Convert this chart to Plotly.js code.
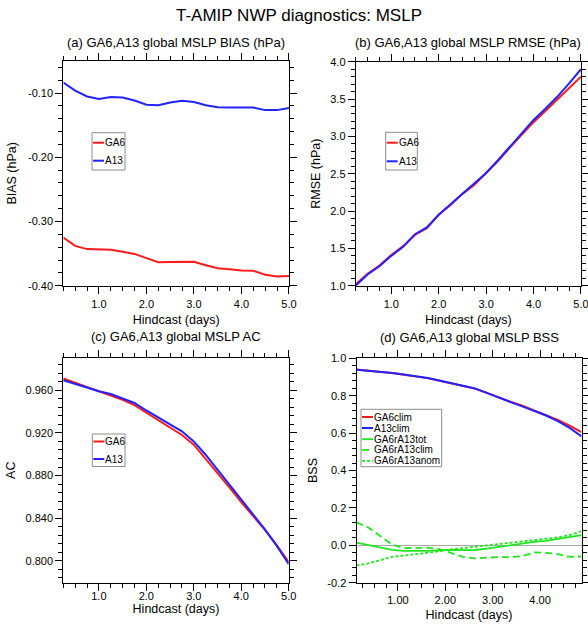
<!DOCTYPE html>
<html><head><meta charset="utf-8">
<script src="https://cdn.plot.ly/plotly-3.0.1.min.js"></script>
<style>html,body{margin:0;padding:0;background:#fff;} #chart{width:588px;height:628px;}</style>
</head><body><div id="chart"></div>
<script>
// ---------------- data ----------------
const days = [0.25,0.5,0.75,1.0,1.25,1.5,1.75,2.0,2.25,2.5,2.75,3.0,3.25,3.5,3.75,4.0,4.25,4.5,4.75,5.0];
const biasGA6 = [-0.325,-0.338,-0.343,-0.344,-0.344,-0.347,-0.3505,-0.357,-0.3635,-0.363,-0.3625,-0.3628,-0.368,-0.3727,-0.3745,-0.3765,-0.3768,-0.383,-0.3858,-0.385];
const biasA13 = [-0.0835,-0.096,-0.1053,-0.109,-0.106,-0.107,-0.1115,-0.118,-0.119,-0.1147,-0.112,-0.114,-0.119,-0.122,-0.1225,-0.123,-0.1225,-0.1265,-0.1265,-0.123];
const rmseGA6 = [1.02,1.16,1.27,1.41,1.53,1.68,1.77,1.95,2.08,2.23,2.35,2.505,2.67,2.85,3.02,3.19,3.34,3.49,3.64,3.80];
const rmseA13 = [1.00,1.15,1.26,1.40,1.52,1.69,1.78,1.95,2.09,2.23,2.36,2.51,2.68,2.86,3.04,3.22,3.37,3.53,3.71,3.90];
const acGA6 = [0.971,0.967,0.963,0.9585,0.955,0.951,0.946,0.939,0.932,0.925,0.918,0.909,0.896,0.882,0.869,0.855,0.842,0.829,0.8145,0.799];
const acA13 = [0.9694,0.966,0.9625,0.959,0.9565,0.9525,0.948,0.941,0.9345,0.928,0.9215,0.912,0.8995,0.8855,0.8715,0.857,0.843,0.8295,0.814,0.797];
const bssDays = [0.125,0.375,0.625,0.875,1.125,1.375,1.625,1.875,2.125,2.375,2.625,2.875,3.125,3.375,3.625,3.875,4.125,4.375,4.625,4.875];
const bssGA6clim = [0.940,0.935,0.929,0.921,0.912,0.903,0.894,0.880,0.866,0.854,0.838,0.815,0.790,0.768,0.746,0.722,0.698,0.671,0.640,0.605];
const bssA13clim = [0.939,0.934,0.929,0.922,0.913,0.904,0.895,0.881,0.867,0.855,0.839,0.815,0.789,0.766,0.743,0.718,0.694,0.664,0.628,0.582];
const bssGA6rA13tot = [0.014,0.0,-0.015,-0.025,-0.03,-0.032,-0.03,-0.027,-0.024,-0.026,-0.025,-0.018,-0.008,0.0,0.01,0.018,0.024,0.033,0.043,0.054];
const bssGA6rA13clim = [0.123,0.095,0.05,0.004,-0.015,-0.016,-0.013,-0.02,-0.04,-0.062,-0.07,-0.066,-0.063,-0.063,-0.058,-0.038,-0.04,-0.047,-0.062,-0.06];
const bssGA6rA13anom = [-0.107,-0.097,-0.08,-0.062,-0.055,-0.048,-0.04,-0.032,-0.022,-0.015,-0.008,0.0,0.006,0.015,0.022,0.03,0.035,0.042,0.055,0.075];

const dayTicks = [1,2,3,4,5];
const dayTickText = ['1.0','2.0','3.0','4.0','5.0'];
const bssDayTicks = [1,2,3,4];
const bssDayTickText = ['1.00','2.00','3.00','4.00'];
const biasTicks = [-0.4,-0.3,-0.2,-0.1];
const biasTickText = ['-0.40','-0.30','-0.20','-0.10'];
const rmseTicks = [1.0,1.5,2.0,2.5,3.0,3.5,4.0];
const rmseTickText = ['1.0','1.5','2.0','2.5','3.0','3.5','4.0'];
const acTicks = [0.80,0.84,0.88,0.92,0.96];
const acTickText = ['0.800','0.840','0.880','0.920','0.960'];
const bssTicks = [-0.2,0.0,0.2,0.4,0.6,0.8,1.0];
const bssTickText = ['-0.2','0.0','0.2','0.4','0.6','0.8','1.0'];

// ---------------- styles ----------------
const RED = '#ff1a1a', BLUE = '#2222ff', GREEN = '#1ee61e';
const W = 588, H = 628;
const px = v => v / W, py = v => 1 - v / H;

function line(x, y, name, color, dash, xa, ya, width) {
  return {x: x, y: y, name: name, type: 'scatter', mode: 'lines',
    line: {color: color, width: width || 2, dash: dash || 'solid'},
    xaxis: xa, yaxis: ya, showlegend: false, hoverinfo: 'skip'};
}
const traces = [
  line(days, biasGA6, 'GA6', RED, 'solid', 'x', 'y'),
  line(days, biasA13, 'A13', BLUE, 'solid', 'x', 'y'),
  line(days, rmseGA6, 'GA6', RED, 'solid', 'x2', 'y2'),
  line(days, rmseA13, 'A13', BLUE, 'solid', 'x2', 'y2'),
  line(days, acGA6, 'GA6', RED, 'solid', 'x3', 'y3'),
  line(days, acA13, 'A13', BLUE, 'solid', 'x3', 'y3'),
  line(bssDays, bssGA6clim, 'GA6clim', RED, 'solid', 'x4', 'y4'),
  line(bssDays, bssA13clim, 'A13clim', BLUE, 'solid', 'x4', 'y4'),
  line(bssDays, bssGA6rA13tot, 'GA6rA13tot', GREEN, 'solid', 'x4', 'y4', 1.8),
  line(bssDays, bssGA6rA13clim, 'GA6rA13clim', GREEN, '7px,4px', 'x4', 'y4', 1.8),
  line(bssDays, bssGA6rA13anom, 'GA6rA13anom', GREEN, '3px,2px', 'x4', 'y4', 1.8)
];

const FONT = 'Liberation Sans, Arial, Helvetica, sans-serif';
function xax(domain, range, tv, tt, anchor, minorDt, lblShift, standoff) {
  return {domain: domain, range: range, anchor: anchor, tickvals: tv, ticktext: tt,
    ticks: 'outside', ticklen: 7, tickwidth: 1, tickcolor: '#000',
    ticklabelstandoff: lblShift, ticklabeloverflow: 'allow',
    showline: true, linecolor: '#000', linewidth: 1, mirror: 'allticks',
    showgrid: false, zeroline: false, automargin: false,
    tickfont: {size: 11, color: '#000'},
    minor: {dtick: minorDt, tick0: 0, ticks: 'outside', ticklen: 4, tickcolor: '#000', tickwidth: 1},
    title: {text: 'Hindcast (days)', font: {size: 12.5, color: '#000'}, standoff: standoff}};
}
function yax(domain, range, tv, tt, anchor, minorDt, title, standoff, zl) {
  return {domain: domain, range: range, anchor: anchor, tickvals: tv, ticktext: tt,
    ticks: 'outside', ticklen: 7, tickwidth: 1, tickcolor: '#000',
    ticklabeloverflow: 'allow',
    showline: true, linecolor: '#000', linewidth: 1, mirror: 'allticks',
    showgrid: false, zeroline: !!zl, zerolinecolor: '#a8a8a8', zerolinewidth: 1, automargin: false,
    tickfont: {size: 11, color: '#000'},
    minor: {dtick: minorDt, tick0: 0, ticks: 'outside', ticklen: 4, tickcolor: '#000', tickwidth: 1},
    title: {text: title, font: {size: 12.5, color: '#000'}, standoff: standoff}};
}

const dA = {x: [px(63.3), px(289)], y: [py(285.7), py(61)]};
const dB = {x: [px(355.7), px(581)], y: [py(285.7), py(61.7)]};
const dC = {x: [px(63.3), px(288.7)], y: [py(582.7), py(357.7)]};
const dD = {x: [px(356.5), px(581.5)], y: [py(582.7), py(358.3)]};

const layout = {
  width: W, height: H, margin: {l: 0, r: 0, t: 0, b: 0},
  paper_bgcolor: '#fff', plot_bgcolor: '#fff',
  font: {family: FONT, color: '#000'},
  showlegend: false,
  title: {text: 'T-AMIP NWP diagnostics: MSLP', font: {size: 17, color: '#000'},
    x: px(299), xanchor: 'center', y: py(15), yanchor: 'middle', xref: 'paper', yref: 'paper'},
  xaxis: xax(dA.x, [0.2499, 5.0005], dayTicks, dayTickText, 'y', 0.25, 1, 6),
  yaxis: yax(dA.y, [-0.40, -0.05], biasTicks, biasTickText, 'x', 0.02, 'BIAS (hPa)', 8),
  xaxis2: xax(dB.x, [0.2499, 5.0005], dayTicks, dayTickText, 'y2', 0.25, 1, 6),
  yaxis2: yax(dB.y, [1.0, 4.0], rmseTicks, rmseTickText, 'x2', 0.1, 'RMSE (hPa)', 6),
  xaxis3: xax(dC.x, [0.2499, 5.0005], dayTicks, dayTickText, 'y3', 0.25, -4, 0),
  yaxis3: yax(dC.y, [0.7795, 0.9905], acTicks, acTickText, 'x3', 0.008, 'AC', 7),
  xaxis4: xax(dD.x, [0.125, 4.875], bssDayTicks, bssDayTickText, 'y4', 0.25, 0, 5),
  yaxis4: yax(dD.y, [-0.2, 1.0], bssTicks, bssTickText, 'x4', 0.04, 'BSS', 6, true),
  shapes: [], annotations: []
};

// subplot titles
const subTitles = [
  ['(a) GA6,A13 global MSLP BIAS (hPa)', 176.2, 42.5],
  ['(b) GA6,A13 global MSLP RMSE (hPa)', 468.4, 42.7],
  ['(c) GA6,A13 global MSLP AC', 176, 336.7],
  ['(d) GA6,A13 global MSLP BSS', 469, 337.3]
];
subTitles.forEach(s => layout.annotations.push({text: s[0], x: px(s[1]), y: py(s[2]),
  xref: 'paper', yref: 'paper', xanchor: 'center', yanchor: 'middle', showarrow: false,
  font: {size: 13, color: '#000'}}));

// legends built from trace names / styles
function addLegend(idx, left, top, width, height, rows, lineLen) {
  layout.shapes.push({type: 'rect', xref: 'paper', yref: 'paper',
    x0: px(left), x1: px(left + width), y0: py(top), y1: py(top + height),
    line: {color: '#8c8c8c', width: 1}, fillcolor: '#fff', layer: 'above'});
  idx.forEach((ti, k) => {
    const t = traces[ti];
    layout.shapes.push({type: 'line', xref: 'paper', yref: 'paper',
      x0: px(left + 1), x1: px(left + 1 + lineLen), y0: py(rows[k]), y1: py(rows[k]),
      line: {color: t.line.color, width: t.line.width, dash: t.line.dash}, layer: 'above'});
    layout.annotations.push({text: t.name, xref: 'paper', yref: 'paper',
      x: px(left + 1 + lineLen), y: py(rows[k]), xanchor: 'left', yanchor: 'middle',
      showarrow: false, font: {size: 10, color: '#000'}, xshift: -1});
  });
}
addLegend([0, 1], 92, 132.7, 33, 37.3, [142.7, 160.7], 11);
addLegend([2, 3], 385.7, 132.3, 31.6, 37.7, [142.7, 161.3], 11);
addLegend([4, 5], 92.3, 434, 32.7, 32.5, [441.5, 459], 11);
addLegend([6, 7, 8, 9, 10], 361, 409.3, 80.7, 57.4, [417, 428, 439.2, 450, 460.8], 11);

Plotly.newPlot('chart', traces, layout, {staticPlot: true, displayModeBar: false});
</script>
</body></html>
